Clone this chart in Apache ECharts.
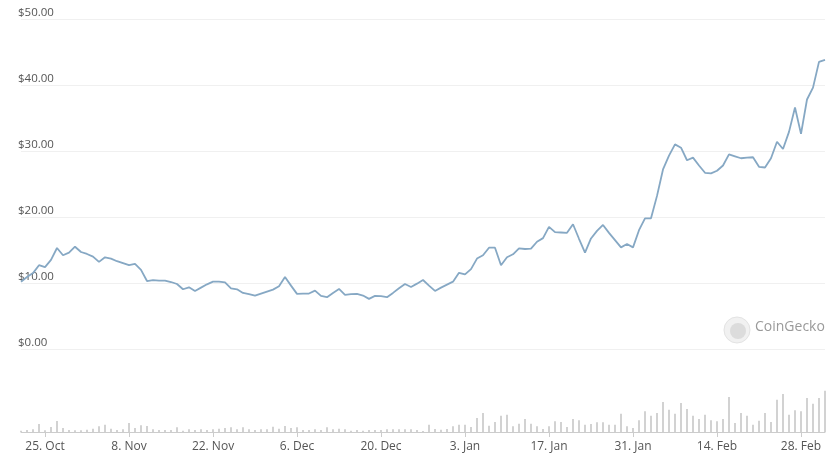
<!DOCTYPE html>
<html>
<head>
<meta charset="utf-8">
<script src="https://cdn.jsdelivr.net/npm/echarts@6/dist/echarts.min.js"></script>
<style>
html,body{margin:0;padding:0;background:#fff;}
#chart{width:840px;height:465px;}
</style>
</head>
<body>
<div id="chart"></div>
<script>
var dates = [
'21. Oct','22. Oct','23. Oct','24. Oct','25. Oct','26. Oct','27. Oct','28. Oct','29. Oct','30. Oct','31. Oct',
'1. Nov','2. Nov','3. Nov','4. Nov','5. Nov','6. Nov','7. Nov','8. Nov','9. Nov','10. Nov','11. Nov','12. Nov','13. Nov','14. Nov','15. Nov','16. Nov','17. Nov','18. Nov','19. Nov','20. Nov','21. Nov','22. Nov','23. Nov','24. Nov','25. Nov','26. Nov','27. Nov','28. Nov','29. Nov','30. Nov',
'1. Dec','2. Dec','3. Dec','4. Dec','5. Dec','6. Dec','7. Dec','8. Dec','9. Dec','10. Dec','11. Dec','12. Dec','13. Dec','14. Dec','15. Dec','16. Dec','17. Dec','18. Dec','19. Dec','20. Dec','21. Dec','22. Dec','23. Dec','24. Dec','25. Dec','26. Dec','27. Dec','28. Dec','29. Dec','30. Dec','31. Dec',
'1. Jan','2. Jan','3. Jan','4. Jan','5. Jan','6. Jan','7. Jan','8. Jan','9. Jan','10. Jan','11. Jan','12. Jan','13. Jan','14. Jan','15. Jan','16. Jan','17. Jan','18. Jan','19. Jan','20. Jan','21. Jan','22. Jan','23. Jan','24. Jan','25. Jan','26. Jan','27. Jan','28. Jan','29. Jan','30. Jan','31. Jan',
'1. Feb','2. Feb','3. Feb','4. Feb','5. Feb','6. Feb','7. Feb','8. Feb','9. Feb','10. Feb','11. Feb','12. Feb','13. Feb','14. Feb','15. Feb','16. Feb','17. Feb','18. Feb','19. Feb','20. Feb','21. Feb','22. Feb','23. Feb','24. Feb','25. Feb','26. Feb','27. Feb','28. Feb',
'1. Mar','2. Mar','3. Mar','4. Mar'
];

var labeledDates = ['25. Oct','8. Nov','22. Nov','6. Dec','20. Dec','3. Jan','17. Jan','31. Jan','14. Feb','28. Feb'];

var price = [
10.2, 10.9, 11.5, 12.7, 12.4, 13.5, 15.3, 14.2, 14.6, 15.5,
14.7, 14.4, 14.0, 13.2, 13.9, 13.7, 13.3, 13.0, 12.7, 12.9,
12.0, 10.3, 10.45, 10.35, 10.35, 10.15, 9.85, 9.05, 9.35, 8.8,
9.3, 9.8, 10.2, 10.2, 10.1, 9.2, 9.05, 8.5, 8.3, 8.1,
8.4, 8.7, 9.0, 9.5, 10.9, 9.6, 8.35, 8.4, 8.4, 8.85,
8.05, 7.85, 8.5, 9.1, 8.2, 8.3, 8.35, 8.1, 7.6, 8.05,
8.0, 7.85, 8.5, 9.2, 9.85, 9.4, 9.9, 10.45, 9.6, 8.8,
9.3, 9.75, 10.2, 11.55, 11.3, 12.1, 13.7, 14.2, 15.35, 15.35,
12.7, 13.9, 14.35, 15.25, 15.15, 15.2, 16.25, 16.8, 18.5, 17.7,
17.65, 17.6, 18.9, 16.7, 14.6, 16.75, 17.9, 18.8, 17.6, 16.5,
15.4, 15.9, 15.4, 18.0, 19.8, 19.8, 23.2, 27.2, 29.3, 31.0,
30.5, 28.6, 29.0, 27.8, 26.7, 26.6, 27.0, 27.8, 29.5, 29.2,
28.9, 29.0, 29.05, 27.6, 27.5, 28.9, 31.4, 30.3, 32.9, 36.6,
32.6, 37.8, 39.6, 43.5, 43.8
];

// trading volume (relative units)
var volume = [
4, 6, 8, 24, 5, 15, 33, 12, 6, 5,
5, 7, 10, 17, 22, 10, 6, 8, 27,
12, 20, 18, 8, 6, 6, 6, 14, 4, 8,
6, 8, 6, 8, 10, 12, 14, 8, 14, 8,
6, 8, 8, 16, 10, 18, 12, 14, 6, 6,
8, 6, 14, 8, 10, 8, 4, 6, 4, 6,
6, 6, 8, 8, 8, 8, 8, 6,
3, 22, 9, 7, 9, 17, 22, 22, 15, 42,
57, 19, 30, 49, 52, 17, 25, 39, 25, 17,
9, 17, 32, 30, 15, 39, 35, 22, 24, 29,
29, 22, 22, 55, 17, 12, 35, 62, 49, 57,
90, 67, 55, 87, 69, 49, 39, 52, 35, 32,
39, 105, 27, 57, 49, 22, 34, 57, 30, 97,
114, 52, 65, 62, 102, 85, 102, 124
];

var priceTicks = [0, 10, 20, 30, 40, 50];

var FONT = '"Open Sans", "Noto Sans", sans-serif';
var chart = echarts.init(document.getElementById('chart'), null, {renderer: 'canvas'});

function isLabeled(index) {
  return labeledDates.indexOf(dates[index]) >= 0;
}

chart.setOption({
  animation: false,
  backgroundColor: '#ffffff',
  grid: [
    {left: 21, right: 15, top: 19, bottom: 116, containLabel: false},
    {left: 21, right: 15, top: 372, bottom: 33, containLabel: false}
  ],
  xAxis: [
    {
      type: 'category', gridIndex: 0, data: dates, boundaryGap: false,
      show: false
    },
    {
      type: 'category', gridIndex: 1, data: dates, boundaryGap: false,
      axisLine: {show: true, lineStyle: {color: '#cccccc', width: 1}},
      axisTick: {show: true, length: 5, interval: function (i) { return isLabeled(i); }, lineStyle: {color: '#cccccc'}},
      axisLabel: {
        interval: function (i) { return isLabeled(i); },
        color: '#555555', fontFamily: FONT, fontSize: 12, margin: 9
      },
      splitLine: {show: false}
    }
  ],
  yAxis: [
    {
      type: 'value', gridIndex: 0, min: priceTicks[0], max: priceTicks[priceTicks.length - 1], interval: 10,
      axisLine: {show: false}, axisTick: {show: false},
      axisLabel: {
        inside: true, margin: -3, verticalAlign: 'bottom',
        color: '#555555', fontFamily: FONT, fontSize: 11.5,
        backgroundColor: '#ffffff', padding: [0, 8, 0, 0],
        formatter: function (v) { return '$' + v.toFixed(2); }
      },
      splitLine: {show: true, lineStyle: {color: '#f0f0f0', width: 1}}
    },
    {
      type: 'value', gridIndex: 1, min: 0, max: 180,
      show: false, splitLine: {show: false}
    }
  ],
  series: [
    {
      type: 'line', xAxisIndex: 0, yAxisIndex: 0, data: price,
      symbol: 'none', smooth: false,
      lineStyle: {color: '#86a8c4', width: 1.8},
      z: 5
    },
    {
      type: 'bar', xAxisIndex: 1, yAxisIndex: 1, data: volume,
      barWidth: 2,
      itemStyle: {color: '#d2d2d2'}
    }
  ],
  graphic: [
    {type: 'circle', shape: {cx: 737, cy: 330, r: 13}, style: {fill: '#f1f1f1', stroke: '#e3e3e3', lineWidth: 1}},
    {type: 'circle', shape: {cx: 738, cy: 331, r: 8}, style: {fill: '#dcdcdc'}},
    {type: 'text', left: 755, top: 320, style: {text: 'CoinGecko', fill: '#9a9a9a', font: '14px "Open Sans", sans-serif'}}
  ]
});
</script>
</body>
</html>
